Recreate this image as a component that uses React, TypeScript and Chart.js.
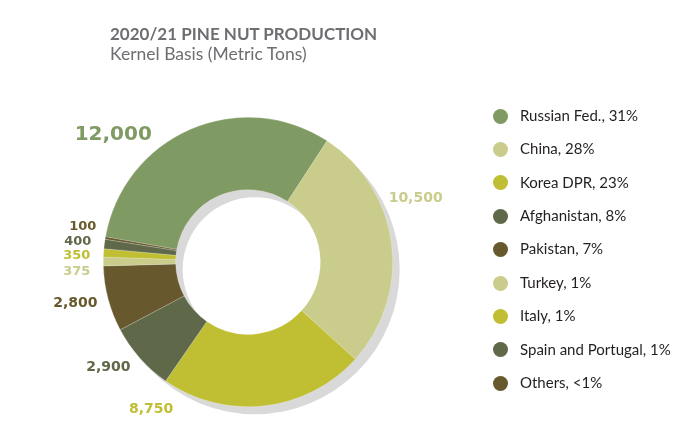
import React, { useEffect, useRef } from "react";
import { Chart, registerables } from "chart.js";

Chart.register(...registerables);

// ---------- data ----------
const countries = [
  "Russian Fed.",
  "China",
  "Korea DPR",
  "Afghanistan",
  "Pakistan",
  "Turkey",
  "Italy",
  "Spain and Portugal",
  "Others",
];
const tons = [12000, 10500, 8750, 2900, 2800, 375, 350, 400, 100];
const shareLabels = ["31%", "28%", "23%", "8%", "7%", "1%", "1%", "1%", "<1%"];
const colors = [
  "#7F9A62",
  "#C9CC8A",
  "#C0BE32",
  "#5F6848",
  "#67592D",
  "#C9CC8A",
  "#C0BE32",
  "#5F6848",
  "#67592D",
];
const TITLE = "2020/21 PINE NUT PRODUCTION";
const SUBTITLE = "Kernel Basis (Metric Tons)";

// ---------- layout (label offsets relative to the doughnut centre, at radius 145) ----------
const LABEL_LAYOUT = [
  { dx: -135, dy: -127, size: 20, align: "center" },
  { dx: 168, dy: -64, size: 14, align: "center" },
  { dx: -97, dy: 148, size: 14, align: "center" },
  { dx: -140, dy: 106, size: 14, align: "center" },
  { dx: -173, dy: 41, size: 14, align: "center" },
  { dx: -158, dy: 10, size: 13, align: "right" },
  { dx: -158, dy: -6, size: 13, align: "right" },
  { dx: -157, dy: -20, size: 13, align: "right" },
  { dx: -152, dy: -35, size: 13, align: "right" },
];

const fmt = (v: number) => v.toLocaleString("en-US");

const shadowPlugin = {
  id: "ringShadow",
  beforeDatasetsDraw(chart: any) {
    const meta = chart.getDatasetMeta(0);
    const arc = meta.data[0];
    if (!arc) return;
    const { x, y, outerRadius, innerRadius } = arc.getProps(
      ["x", "y", "outerRadius", "innerRadius"],
      true
    );
    const ctx = chart.ctx;
    const k = outerRadius / 145;
    const ox = 7 * k;
    const oy = 7.5 * k;
    ctx.save();
    ctx.fillStyle = "#D9D9D9";
    ctx.beginPath();
    ctx.arc(x + ox, y + oy, outerRadius, 0, Math.PI * 2);
    ctx.moveTo(x + ox + innerRadius, y + oy);
    ctx.arc(x + ox, y + oy, innerRadius, 0, Math.PI * 2, true);
    ctx.fill("evenodd");
    ctx.restore();
  },
};

const valueLabelPlugin = {
  id: "valueLabels",
  afterDatasetsDraw(chart: any) {
    const meta = chart.getDatasetMeta(0);
    const arc = meta.data[0];
    if (!arc) return;
    const { x, y, outerRadius } = arc.getProps(["x", "y", "outerRadius"], true);
    const k = outerRadius / 145;
    const ctx = chart.ctx;
    ctx.save();
    ctx.textBaseline = "middle";
    const values = chart.data.datasets[0].data as number[];
    values.forEach((v, i) => {
      const L = LABEL_LAYOUT[i];
      ctx.font = `bold ${L.size}px "DejaVu Sans", sans-serif`;
      ctx.fillStyle = colors[i];
      ctx.textAlign = L.align as CanvasTextAlign;
      ctx.fillText(fmt(v), x + L.dx * k, y + L.dy * k);
    });
    ctx.restore();
  },
};

export default function App() {
  const canvasRef = useRef<HTMLCanvasElement | null>(null);

  useEffect(() => {
    if (!canvasRef.current) return;
    const chart = new Chart(canvasRef.current, {
      type: "doughnut",
      data: {
        labels: countries,
        datasets: [
          {
            data: tons,
            backgroundColor: colors,
            borderWidth: 0.6,
            borderColor: "rgba(255,255,255,0.35)",
            hoverOffset: 0,
            offset: 0,
          },
        ],
      },
      options: {
        responsive: false,
        animation: false,
        events: [],
        rotation: -80,
        cutout: "50%",
        layout: { padding: { left: 103, top: 117, right: 299, bottom: 28 } },
        plugins: {
          legend: { display: false },
          title: { display: false },
          tooltip: { enabled: false },
        },
      },
      plugins: [shadowPlugin, valueLabelPlugin],
    });
    return () => chart.destroy();
  }, []);

  const legendTop = 107.7;
  const rowGap = 33.4;

  return (
    <div
      style={{
        position: "absolute",
        left: 0,
        top: 0,
        width: 692,
        height: 435,
        background: "#ffffff",
        overflow: "hidden",
      }}
    >
      <canvas
        ref={canvasRef}
        width={692}
        height={435}
        style={{ position: "absolute", left: 0, top: 0, width: 692, height: 435 }}
      />
      <div
        style={{
          position: "absolute",
          left: 110,
          top: 25,
          fontFamily: "Lato, sans-serif",
          fontWeight: 700,
          fontSize: 17,
          lineHeight: "17px",
          color: "#6D6E71",
          whiteSpace: "nowrap",
        }}
      >
        {TITLE}
      </div>
      <div
        style={{
          position: "absolute",
          left: 110,
          top: 44.5,
          fontFamily: "Lato, sans-serif",
          fontWeight: 400,
          fontSize: 17.5,
          lineHeight: "17.5px",
          color: "#6D6E71",
          whiteSpace: "nowrap",
        }}
      >
        {SUBTITLE}
      </div>
      {countries.map((c, i) => (
        <React.Fragment key={c}>
          <div
            style={{
              position: "absolute",
              left: 492.5,
              top: 116 + i * rowGap - 7.5,
              width: 15,
              height: 15,
              borderRadius: "50%",
              background: colors[i],
            }}
          />
          <div
            style={{
              position: "absolute",
              left: 520,
              top: legendTop + i * rowGap,
              fontFamily: "Lato, sans-serif",
              fontSize: 15,
              lineHeight: "15px",
              color: "#231F20",
              whiteSpace: "nowrap",
            }}
          >
            {`${c}, ${shareLabels[i]}`}
          </div>
        </React.Fragment>
      ))}
    </div>
  );
}
